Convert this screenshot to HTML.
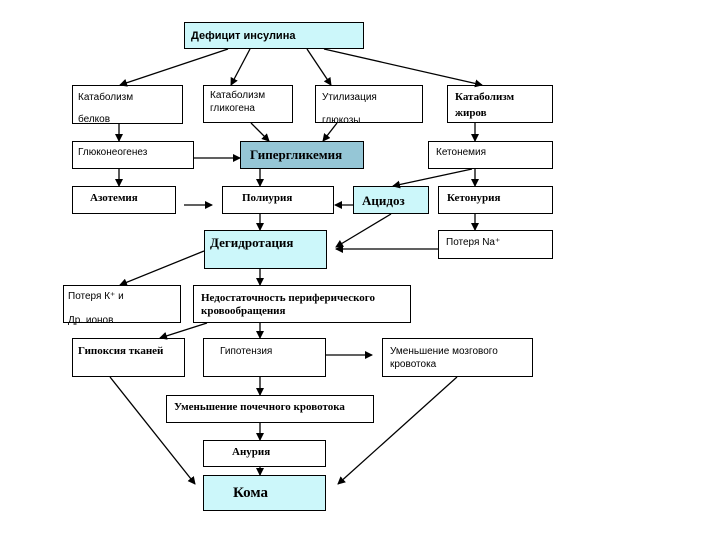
<!DOCTYPE html>
<html><head><meta charset="utf-8"><style>
html,body{margin:0;padding:0;background:#fff;width:720px;height:540px;overflow:hidden}
svg text{font-family:"Liberation Sans","Noto Sans CJK SC",sans-serif;font-size:10px;fill:#000}
svg text.b{font-family:"Liberation Serif","Noto Serif CJK SC",serif;font-weight:bold;font-size:11px}
rect{stroke:#000;stroke-width:1}
line{stroke:#000;stroke-width:1.3}
</style></head><body>
<svg width="720" height="540" viewBox="0 0 720 540" xmlns="http://www.w3.org/2000/svg">
<defs><marker id="a" markerWidth="8" markerHeight="8" refX="7" refY="4" orient="auto" markerUnits="userSpaceOnUse"><path d="M0,0 L8,4 L0,8 z" fill="#000"/></marker></defs>
<g fill="#fff">
<rect x="184.5" y="22.5" width="179" height="26" fill="#ccf7fa"/>
<rect x="72.5" y="85.5" width="110" height="38" fill="#fff"/>
<rect x="203.5" y="85.5" width="89" height="37" fill="#fff"/>
<rect x="315.5" y="85.5" width="107" height="37" fill="#fff"/>
<rect x="447.5" y="85.5" width="105" height="37" fill="#fff"/>
<rect x="72.5" y="141.5" width="121" height="27" fill="#fff"/>
<rect x="240.5" y="141.5" width="123" height="27" fill="#95c6d6"/>
<rect x="428.5" y="141.5" width="124" height="27" fill="#fff"/>
<rect x="72.5" y="186.5" width="103" height="27" fill="#fff"/>
<rect x="222.5" y="186.5" width="111" height="27" fill="#fff"/>
<rect x="353.5" y="186.5" width="75" height="27" fill="#ccf7fa"/>
<rect x="438.5" y="186.5" width="114" height="27" fill="#fff"/>
<rect x="204.5" y="230.5" width="122" height="38" fill="#ccf7fa"/>
<rect x="438.5" y="230.5" width="114" height="28" fill="#fff"/>
<rect x="63.5" y="285.5" width="117" height="37" fill="#fff"/>
<rect x="193.5" y="285.5" width="217" height="37" fill="#fff"/>
<rect x="72.5" y="338.5" width="112" height="38" fill="#fff"/>
<rect x="203.5" y="338.5" width="122" height="38" fill="#fff"/>
<rect x="382.5" y="338.5" width="150" height="38" fill="#fff"/>
<rect x="166.5" y="395.5" width="207" height="27" fill="#fff"/>
<rect x="203.5" y="440.5" width="122" height="26" fill="#fff"/>
<rect x="203.5" y="475.5" width="122" height="35" fill="#ccf7fa"/>
</g>
<text x="191" y="39" style="font-weight:bold;font-size:11px">Дефицит инсулина</text>
<text x="78" y="100">Катаболизм</text><text x="78" y="122">белков</text>
<text x="210" y="98">Катаболизм</text><text x="210" y="111">гликогена</text>
<text x="322" y="100">Утилизация</text><text x="322" y="123">глюкозы</text>
<text class="b" x="455" y="100">Катаболизм</text><text class="b" x="455" y="116">жиров</text>
<text x="78" y="155">Глюконеогенез</text>
<text class="b" x="250" y="159" style="font-size:13px">Гипергликемия</text>
<text x="436" y="155">Кетонемия</text>
<text class="b" x="90" y="201">Азотемия</text>
<text class="b" x="242" y="201">Полиурия</text>
<text class="b" x="362" y="205" style="font-size:13px">Ацидоз</text>
<text class="b" x="447" y="201">Кетонурия</text>
<text class="b" x="210" y="247" style="font-size:13px">Дегидротация</text>
<text x="446" y="245">Потеря Na⁺</text>
<text x="68" y="299">Потеря К⁺ и</text><text x="68" y="323">Др. ионов</text>
<text class="b" x="201" y="301">Недостаточность периферического</text><text class="b" x="201" y="314">кровообращения</text>
<text class="b" x="78" y="354">Гипоксия тканей</text>
<text x="220" y="354">Гипотензия</text>
<text x="390" y="354">Уменьшение мозгового</text><text x="390" y="367">кровотока</text>
<text class="b" x="174" y="410">Уменьшение почечного кровотока</text>
<text class="b" x="232" y="455">Анурия</text>
<text class="b" x="233" y="497" style="font-size:15px">Кома</text>
<g marker-end="url(#a)">
<line x1="228" y1="49" x2="120" y2="85"/>
<line x1="250" y1="49" x2="231" y2="85"/>
<line x1="307" y1="49" x2="331" y2="85"/>
<line x1="324" y1="49" x2="482" y2="85"/>
<line x1="119" y1="124" x2="119" y2="141"/>
<line x1="251" y1="123" x2="269" y2="141"/>
<line x1="337" y1="123" x2="323" y2="141"/>
<line x1="475" y1="123" x2="475" y2="141"/>
<line x1="194" y1="158" x2="240" y2="158"/>
<line x1="119" y1="169" x2="119" y2="186"/>
<line x1="260" y1="169" x2="260" y2="186"/>
<line x1="475" y1="169" x2="475" y2="186"/>
<line x1="472" y1="169" x2="393" y2="186"/>
<line x1="184" y1="205" x2="212" y2="205"/>
<line x1="353" y1="205" x2="335" y2="205"/>
<line x1="260" y1="214" x2="260" y2="230"/>
<line x1="475" y1="214" x2="475" y2="230"/>
<line x1="391" y1="214" x2="336" y2="247"/>
<line x1="438" y1="249" x2="336" y2="249"/>
<line x1="204" y1="251" x2="120" y2="285"/>
<line x1="260" y1="269" x2="260" y2="285"/>
<line x1="207" y1="323" x2="160" y2="338"/>
<line x1="260" y1="323" x2="260" y2="338"/>
<line x1="326" y1="355" x2="372" y2="355"/>
<line x1="260" y1="377" x2="260" y2="395"/>
<line x1="260" y1="423" x2="260" y2="440"/>
<line x1="260" y1="467" x2="260" y2="475"/>
<line x1="110" y1="377" x2="195" y2="484"/>
<line x1="457" y1="377" x2="338" y2="484"/>
</g>
</svg>
</body></html>
